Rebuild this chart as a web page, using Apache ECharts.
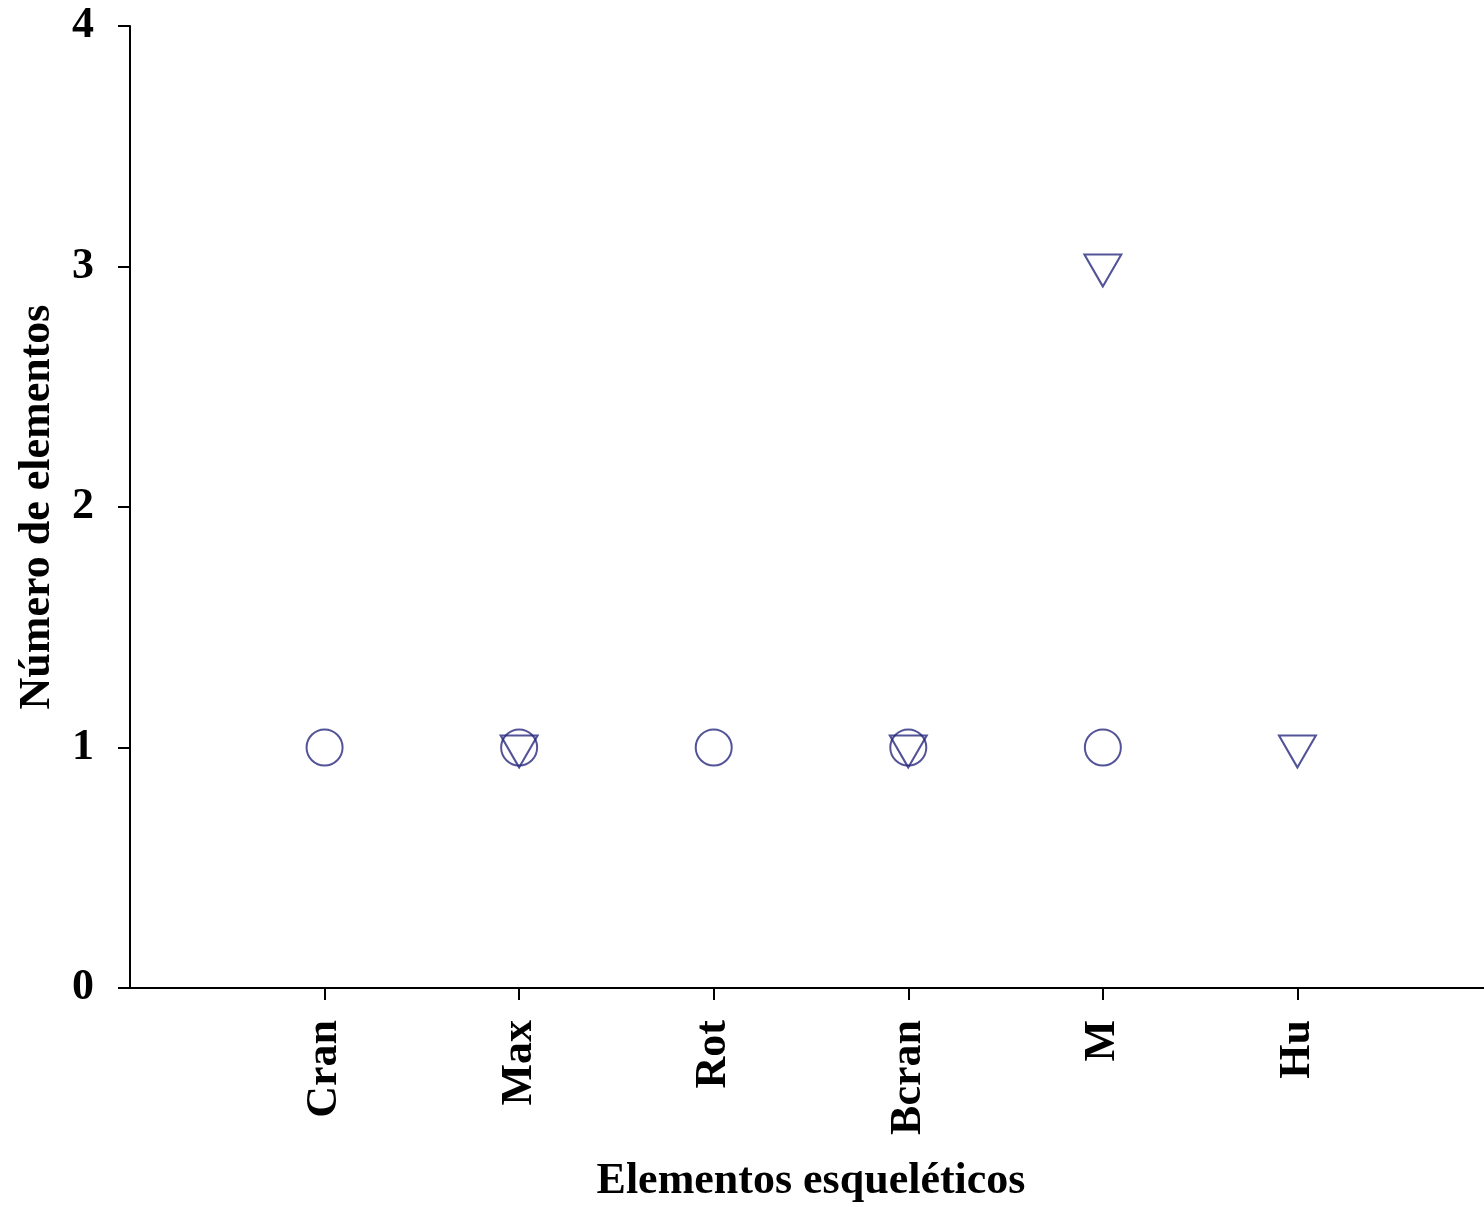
<!DOCTYPE html>
<html><head><meta charset="utf-8">
<script src="https://cdn.jsdelivr.net/npm/echarts@6/dist/echarts.min.js"></script>
<style>html,body{margin:0;padding:0;background:#fff}#c{width:1484px;height:1207px}</style>
</head><body><div id="c"></div>
<script>
const categories = ['', 'Cran', 'Max', 'Rot', 'Bcran', 'M', 'Hu', ''];
const circleNames = ['Cran', 'Max', 'Rot', 'Bcran', 'M'];
const circleValues = [1, 1, 1, 1, 1];
const triangleNames = ['Max', 'Bcran', 'M', 'Hu'];
const triangleValues = [1, 1, 3, 1];
const yTicks = [0, 1, 2, 3, 4];

const font = '"Liberation Serif", "Times New Roman", serif';
const markColor = '#28287e';
const chart = echarts.init(document.getElementById('c'));
chart.setOption({
  animation: false,
  backgroundColor: '#fff',
  grid: { left: 130, top: 26, width: 1362, height: 962, outerBoundsMode: 'none', containLabel: false },
  xAxis: {
    type: 'category', data: categories, boundaryGap: false,
    name: 'Elementos esqueléticos', nameLocation: 'middle', nameGap: 172,
    nameTextStyle: { fontFamily: font, fontWeight: 'bold', fontSize: 44, color: '#000' },
    axisLine: { lineStyle: { color: '#000', width: 2 } },
    axisTick: { show: true, length: 12, lineStyle: { color: '#000', width: 2 },
      interval: (i, v) => v !== '' },
    axisLabel: { rotate: 90, margin: 32, interval: 0, fontFamily: font, fontWeight: 'bold', fontSize: 44, color: '#000' },
    splitLine: { show: false }
  },
  yAxis: {
    type: 'value', min: yTicks[0], max: yTicks[yTicks.length - 1], interval: 1,
    name: 'Número de elementos', nameLocation: 'middle', nameGap: 70,
    nameTextStyle: { fontFamily: font, fontWeight: 'bold', fontSize: 44, color: '#000' },
    axisLine: { show: true, lineStyle: { color: '#000', width: 2 } },
    axisTick: { show: true, length: 12, lineStyle: { color: '#000', width: 2 } },
    axisLabel: { margin: 36, fontFamily: font, fontWeight: 'bold', fontSize: 44, color: '#000' },
    splitLine: { show: false }
  },
  series: [
    { type: 'scatter', symbol: 'circle', symbolSize: 36,
      itemStyle: { color: 'transparent', borderColor: markColor, borderWidth: 2 },
      data: circleNames.map((n, i) => [n, circleValues[i]]) },
    { type: 'scatter', symbol: 'triangle', symbolSize: [37, 32], symbolRotate: 180, symbolOffset: [0, 4],
      itemStyle: { color: 'transparent', borderColor: markColor, borderWidth: 2 },
      data: triangleNames.map((n, i) => [n, triangleValues[i]]) }
  ]
});
</script></body></html>
